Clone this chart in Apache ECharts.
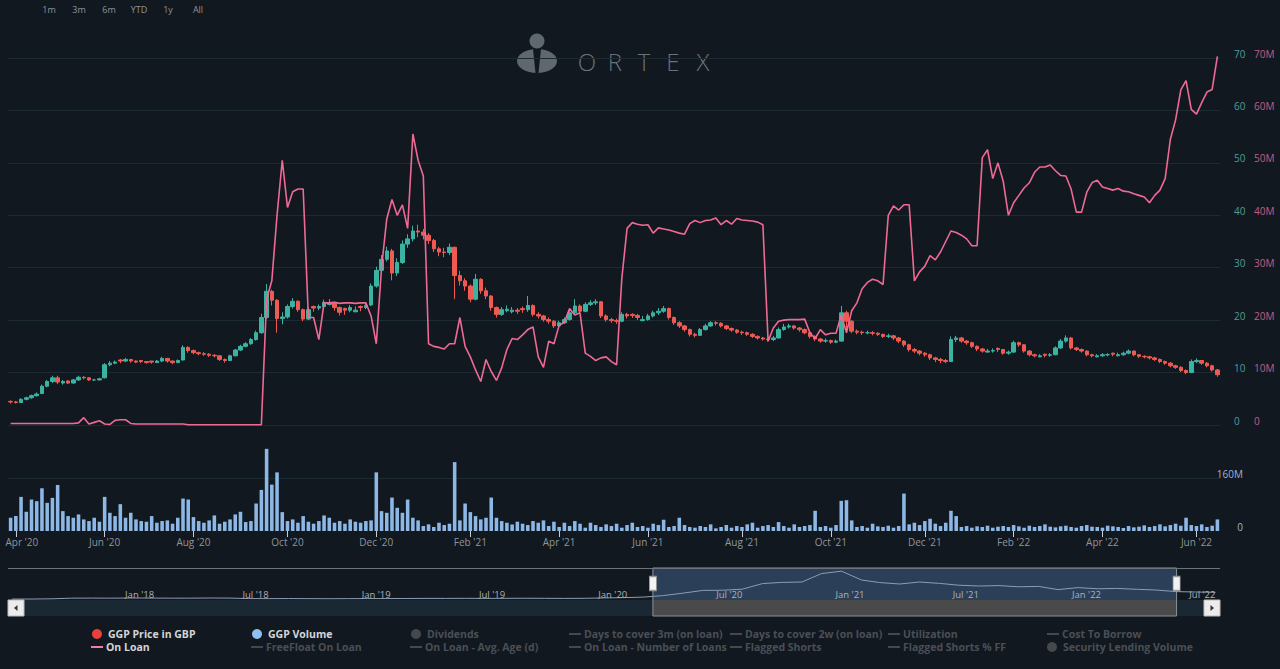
<!DOCTYPE html>
<html><head><meta charset="utf-8">
<script src="https://cdn.jsdelivr.net/npm/echarts@6/dist/echarts.min.js"></script>
<style>html,body{margin:0;padding:0;background:#121820;}#c{width:1280px;height:669px;}</style>
</head><body><div id="c"></div>
<script>
// ---- data (two samples per week: Mondays & Thursdays, from 30 Mar 2020) ----
const priceOpen = [
4.5,4.4,4.3,4.9,5.2,5.6,6.0,7.4,8.3,9.0,
8.0,8.4,8.0,8.6,9.1,9.0,8.6,8.6,9.0,11.5,
11.8,12.4,12.2,12.5,12.2,12.3,12.1,12.2,11.9,12.2,
12.7,12.2,11.9,12.4,14.8,14.2,13.8,13.6,13.5,13.3,
13.2,12.5,12.3,13.2,14.3,15.0,15.5,16.3,17.6,20.5,
25.5,23.8,20.3,20.6,22.6,23.6,22.0,20.2,22.6,22.3,
22.6,23.0,23.3,22.4,22.2,21.9,21.6,22.6,22.4,22.9,
26.5,29.5,31.6,33.2,29.0,31.0,34.5,35.5,37.0,36.8,
36.2,35.2,33.6,33.0,32.9,33.9,28.5,27.5,26.5,24.0,
27.8,25.6,24.6,22.4,21.1,21.8,21.6,21.9,22.2,22.0,
22.8,21.1,20.8,20.1,19.8,18.9,19.5,20.1,21.4,22.7,
21.7,23.0,23.3,23.5,20.8,20.1,19.9,19.8,21.1,21.1,
20.9,19.9,20.1,20.8,21.4,21.7,22.2,20.5,19.5,18.9,
18.2,17.3,17.1,18.2,18.9,19.5,19.4,18.9,18.4,18.1,
17.7,17.6,17.3,16.9,16.6,16.4,16.3,16.6,18.2,18.7,
18.9,18.5,18.2,17.6,16.9,16.4,16.0,16.1,15.8,16.0,
21.4,19.8,17.9,17.7,17.6,17.6,17.5,17.3,16.9,17.0,
16.6,16.0,15.3,14.4,14.1,13.7,13.4,12.8,12.5,12.3,
12.1,16.3,16.6,16.0,15.7,15.0,14.5,13.9,14.1,14.6,
14.4,13.7,13.9,15.7,15.3,14.1,13.4,13.0,13.5,13.3,
13.4,14.7,16.0,16.6,14.7,14.4,14.1,13.4,13.0,13.2,
13.4,13.7,13.2,13.4,13.7,14.1,13.4,13.1,13.0,12.8,
12.5,12.1,11.8,11.3,11.0,10.4,10.0,12.1,12.3,11.8,
11.3,10.5];
const priceClose = [
4.4,4.3,4.9,5.2,5.6,5.9,7.4,8.3,9.0,8.2,
8.3,8.0,8.6,9.1,9.0,8.6,8.6,8.8,11.5,11.8,
12.0,12.2,12.5,12.2,12.0,12.1,11.9,12.0,12.2,12.7,
12.2,11.9,12.3,14.8,14.2,13.8,13.6,13.5,13.3,13.2,
12.5,12.3,13.2,14.3,15.0,15.5,16.3,17.6,20.5,25.5,
23.8,20.3,20.6,22.6,23.6,22.0,20.2,22.0,22.3,22.6,
23.4,23.3,22.4,21.5,21.9,22.4,21.9,22.4,22.8,26.5,
29.5,31.6,33.2,29.0,31.0,34.5,35.5,37.0,36.8,36.2,
35.2,33.6,33.0,32.9,33.9,28.5,27.5,26.5,24.0,27.8,
25.6,24.6,22.4,21.1,22.0,22.1,21.9,21.7,22.0,22.8,
21.1,20.8,20.1,19.8,18.9,19.5,20.1,21.4,22.7,21.7,
23.0,23.3,23.5,20.8,20.1,19.9,19.8,21.1,20.8,20.9,
20.5,20.1,20.8,21.4,21.7,22.2,20.5,19.5,18.9,18.2,
17.3,17.1,18.2,18.9,19.5,19.4,18.9,18.4,18.1,17.7,
17.6,17.3,16.9,16.6,16.4,16.3,16.6,18.2,18.7,18.9,
18.5,18.2,17.6,16.9,16.4,16.0,16.1,15.8,16.0,21.4,
19.8,17.9,17.7,17.6,17.6,17.5,17.3,16.9,17.0,16.6,
16.0,15.3,14.4,14.1,13.7,13.4,12.8,12.5,12.3,12.1,
16.3,16.6,16.0,15.7,15.0,14.5,14.1,14.1,14.2,14.4,
13.7,13.9,15.7,15.3,14.1,13.4,13.2,13.2,13.3,13.4,
14.7,16.0,16.6,14.7,14.4,14.1,13.4,13.2,13.2,13.4,
13.4,13.5,13.4,13.7,14.1,13.4,13.1,13.0,12.8,12.5,
12.1,11.8,11.3,11.0,10.4,10.0,12.1,12.3,11.8,11.3,
10.5,9.6];
const priceLow = [
4.1,4.1,4.2,4.7,5.0,5.4,5.9,7.2,8.0,7.8,
7.7,7.8,7.9,8.4,8.7,8.4,8.4,8.5,8.9,11.2,
11.6,11.8,12.0,11.9,11.8,11.8,11.7,11.7,11.9,12.0,
11.9,11.6,11.8,12.3,13.8,13.5,13.3,13.2,13.0,12.9,
12.2,11.9,12.2,13.1,14.1,14.8,15.3,16.1,17.4,20.2,
22.8,17.6,19.2,20.3,22.2,21.6,19.8,20.0,21.6,21.9,
22.2,22.8,21.8,20.9,21.0,21.5,21.5,21.7,22.1,22.7,
26.2,29.2,31.2,27.6,28.4,30.7,33.8,35.0,35.8,35.4,
34.5,33.0,32.2,32.0,32.4,24.0,26.6,25.6,23.4,23.8,
25.0,24.0,21.8,20.5,20.8,21.5,21.3,21.2,21.4,21.6,
20.7,20.3,19.7,19.3,18.5,18.6,19.3,19.9,21.1,21.2,
21.5,22.7,22.9,20.4,19.7,19.5,19.3,19.6,20.3,20.4,
20.0,19.8,19.9,20.5,21.0,21.4,20.1,19.1,18.5,17.8,
16.9,16.7,17.0,18.0,18.7,19.0,18.6,18.1,17.8,17.4,
17.2,17.0,16.6,16.3,16.1,15.9,16.0,16.5,18.0,18.4,
18.2,17.8,17.3,16.5,16.0,15.7,15.7,15.5,15.6,15.9,
17.8,17.5,17.3,17.2,17.3,17.1,17.0,16.6,16.6,16.2,
15.6,14.9,14.0,13.7,13.3,13.0,12.4,12.0,11.8,11.8,
12.0,15.8,15.7,15.3,14.7,14.1,13.8,13.8,13.8,13.9,
13.4,13.4,13.8,14.9,13.8,13.1,12.9,12.9,12.9,13.0,
13.3,14.5,15.7,14.4,14.1,13.8,13.1,12.9,12.9,13.0,
13.1,13.1,13.1,13.2,13.5,13.1,12.8,12.7,12.5,12.2,
11.8,11.5,11.0,10.7,10.1,9.7,9.9,11.8,11.5,11.0,
10.2,9.2];
const priceHigh = [
4.7,4.6,5.1,5.4,5.8,6.2,7.7,8.6,9.4,9.4,
8.6,8.5,8.8,9.4,9.3,9.1,8.8,9.0,11.8,12.2,
12.3,12.6,12.8,12.6,12.3,12.3,12.2,12.2,12.4,13.0,
12.8,12.3,12.5,15.2,15.0,14.4,14.0,13.9,13.7,13.5,
13.3,12.7,13.4,14.5,15.3,15.8,16.6,18.0,21.2,26.9,
25.8,24.0,21.5,23.0,24.2,23.8,22.2,22.5,22.8,23.0,
23.9,24.0,23.5,22.6,22.4,22.9,22.6,22.8,23.3,27.0,
30.2,32.4,34.0,33.6,31.8,35.2,36.4,38.0,38.2,37.4,
36.6,35.5,34.0,33.8,34.6,34.0,29.4,28.0,26.8,28.8,
28.0,26.2,24.8,22.6,22.5,22.8,22.5,22.3,22.6,24.6,
23.0,21.5,21.0,20.5,20.0,19.9,20.5,21.8,24.0,23.0,
23.4,23.8,24.0,23.6,21.1,20.4,20.3,21.5,21.4,21.3,
21.2,20.8,21.2,21.8,22.3,22.7,22.4,20.7,19.8,19.1,
18.4,17.6,18.5,19.3,19.8,19.8,19.6,19.1,18.6,18.3,
18.0,17.8,17.5,17.1,16.8,16.7,17.0,18.6,19.3,19.3,
19.1,18.7,18.4,17.8,17.1,16.6,16.5,16.3,16.3,22.7,
21.8,20.0,18.2,18.0,18.0,17.9,17.7,17.4,17.4,17.2,
16.8,16.2,15.5,14.7,14.3,13.9,13.6,13.0,12.8,12.6,
16.9,17.0,16.8,16.2,15.9,15.2,14.7,14.5,14.6,14.8,
14.5,14.2,16.1,15.9,15.4,14.3,13.6,13.5,13.6,13.7,
15.0,16.4,17.1,16.8,14.9,14.6,14.2,13.6,13.5,13.7,
13.7,13.8,13.8,14.0,14.4,14.2,13.5,13.3,13.2,13.0,
12.7,12.3,12.0,11.5,11.2,10.6,12.5,12.7,12.4,12.0,
11.5,10.7];
// shares on loan, millions
const onLoan = [
0.3,0.3,0.3,0.3,0.3,0.3,0.3,0.3,0.3,0.3,
0.3,0.3,0.3,0.4,1.4,0.2,0.5,0.8,0.2,0.1,
0.9,1.0,1.0,0.3,0.2,0.2,0.2,0.2,0.2,0.2,
0.2,0.2,0.2,0.2,0.05,0.05,0.05,0.05,0.05,0.05,
0.05,0.05,0.05,0.05,0.05,0.05,0.05,0.05,0.05,24,
27.5,40,50.5,41.5,44.5,45,45,20.5,20.5,16.3,
23.3,23.3,23.4,23.2,23.3,23.3,23.2,23.3,23.3,20.8,
15.5,30,39.3,43,40,42,37.5,55.5,50.5,47.5,
15.5,15,14.8,14.5,15.5,15.5,20.5,15,13,10.5,
8.3,12.5,10.2,8.5,10.9,14.4,16.5,16.3,17.2,18.2,
18.7,13,11,16,15.5,19,19.6,22.2,21,21.4,
13.7,13.1,12.3,12.8,13,12.1,11.5,28,37.5,38.6,
38.3,38.1,38.2,36.6,37.6,37.4,37.2,36.9,36.6,36.4,
38.4,39,38.6,39,39.1,39.5,38.2,39,38.3,39.4,
39.1,39,38.9,38.7,38.2,16,18.5,19.8,20,20.1,
20.1,20.1,20.2,17.6,16.5,18.2,17.2,17.5,17.5,21,
17.6,21.8,23.3,26,27.2,27.8,27.5,26.8,40,41.8,
41,42,42,27.5,29.2,30.3,32.3,31.5,33,35,
37,36.7,36.2,35.5,34.2,34.2,51,52.5,47,50,
46.5,40,42.4,43.8,45.2,46.2,48.2,49.2,49.2,49.6,
48.5,47.6,47.5,45,40.6,40.6,44.4,46.2,46.7,45.4,
45.1,44.8,45.1,44.6,44.5,44.1,43.8,43.5,42.4,43.8,
44.8,47,54.5,58.2,63.9,65.7,60.2,59.3,61.5,63.5,
64,70.3];
// traded volume, millions
const volume = [
40,45,103,58,95,90,129,85,100,139,
60,45,40,50,35,30,40,28,103,55,
45,81,40,55,35,30,28,45,25,30,
32,22,40,98,95,42,30,25,32,47,
22,28,35,50,58,27,30,83,124,248,
140,177,57,30,35,25,45,28,22,30,
47,40,25,30,22,35,28,25,30,32,
177,60,55,101,70,55,95,40,32,15,
20,12,25,18,22,208,32,83,57,45,
35,40,101,40,30,25,20,28,22,18,
30,25,32,15,28,12,25,15,30,22,
10,25,18,12,20,15,22,10,18,25,
12,15,10,22,18,34,12,15,40,18,
12,10,15,12,20,8,12,18,10,15,
12,20,25,10,15,18,12,27,15,10,
20,12,15,18,61,12,15,10,18,91,
93,32,12,15,10,22,14,12,16,10,
15,113,20,25,18,30,37,22,15,25,
61,45,12,15,10,14,12,16,10,13,
15,12,18,14,10,16,12,15,20,13,
11,14,16,12,10,15,18,13,12,10,
16,14,12,9,15,11,13,17,12,15,
20,14,18,22,16,40,18,15,20,12,
16,35];
const xTickDates = ['2020-04-01','2020-06-01','2020-08-01','2020-10-01','2020-12-01','2021-02-01','2021-04-01','2021-06-01','2021-08-01','2021-10-01','2021-12-01','2022-02-01','2022-04-01','2022-06-01'];
const xTickLabels = ["Apr '20","Jun '20","Aug '20","Oct '20","Dec '20","Feb '21","Apr '21","Jun '21","Aug '21","Oct '21","Dec '21","Feb '22","Apr '22","Jun '22"];
// navigator: monthly price history Jul 2017 .. Aug 2022
const navStartMonth = [2017, 6];
const navPrice = [
1.2,1.2,1.5,2.3,2.4,2.3,
2.5,2.4,2.3,2.3,2.5,2.4,1.8,1.7,1.8,1.7,1.6,1.7,
1.8,1.8,1.9,2.0,2.0,2.1,2.0,2.1,2.2,2.1,2.0,2.1,
2.6,3.0,3.6,5.5,8.5,12.0,12.2,13.5,20.5,22.0,22.5,33.0,
36.0,25.0,21.8,20.0,22.5,20.8,18.5,17.5,18.0,16.5,17.0,13.0,
15.5,14.0,14.5,13.4,12.5,10.5,10.0,9.6];
const priceTicks = {min:0, max:70, step:10};
const volTicks = {min:0, max:320, step:160};

// ---- build ----
const DAY = 864e5;
const N = priceClose.length;
const catTimes = [];
let t = Date.UTC(2020, 2, 30);
for (let k = 0; k < N; k++) { catTimes.push(t); t += (k % 2 === 0 ? 3 : 4) * DAY; }
const categories = catTimes.map(ts => new Date(ts).toISOString().slice(0, 10));
const labelAt = {};
xTickDates.forEach((ds, j) => {
  const target = Date.parse(ds);
  let best = 0, bd = Infinity;
  catTimes.forEach((ts, k) => { const dd = Math.abs(ts - target); if (dd < bd) { bd = dd; best = k; } });
  labelAt[best] = xTickLabels[j];
});
const firstLabelIdx = Math.min(...Object.keys(labelAt).map(Number));
const ohlc = priceClose.map((c, i) => [priceOpen[i], c, priceLow[i], priceHigh[i]]);
const navData = navPrice.map((v, i) => [Date.UTC(navStartMonth[0], navStartMonth[1] + i, 15), v]);
const navMin = Date.UTC(2017, 6, 9), navMax = Date.UTC(2022, 7, 22);
const selStart = catTimes[0], selEnd = catTimes[N - 1];
const MON = ['Jan','Feb','Mar','Apr','May','Jun','Jul','Aug','Sep','Oct','Nov','Dec'];

const FONT = "'Open Sans', 'DejaVu Sans', sans-serif";
const gridColor = '#1c2a31';
const tickFn = (idx) => labelAt[idx] !== undefined;

// legend drawn as graphic text
const legendItems = [
  [0,'dot',97,'GGP Price in GBP','#e8413b'],
  [0,'dot',257,'GGP Volume','#8fc0ef'],
  [0,'dot',416,'Dividends',null],
  [0,'dash',569,'Days to cover 3m (on loan)',null],
  [0,'dash',730,'Days to cover 2w (on loan)',null],
  [0,'dash',888,'Utilization',null],
  [0,'dash',1047,'Cost To Borrow',null],
  [1,'dash',91,'On Loan','#ef7ea2'],
  [1,'dash',251,'FreeFloat On Loan',null],
  [1,'dash',410,'On Loan - Avg. Age (d)',null],
  [1,'dash',569,'On Loan - Number of Loans',null],
  [1,'dash',730,'Flagged Shorts',null],
  [1,'dash',888,'Flagged Shorts % FF',null],
  [1,'dot',1052,'Security Lending Volume',null],
];
const rowY = [634, 647];
const graphics = [];
legendItems.forEach(([row, kind, x, label, col]) => {
  const y = rowY[row];
  const active = !!col;
  const sym = active ? col : '#45494e';
  const txt = active ? '#d3d6d9' : '#4a4f55';
  if (kind === 'dot') {
    graphics.push({type:'circle', shape:{cx:x, cy:y, r:5}, style:{fill:sym}});
    graphics.push({type:'text', style:{text:label, x:x+11, y:y, fill:txt, fontFamily:FONT, fontSize:10.5, fontWeight:'bold', align:'left', verticalAlign:'middle'}});
  } else {
    graphics.push({type:'line', shape:{x1:x, y1:y, x2:x+12, y2:y}, style:{stroke:sym, lineWidth:2}});
    graphics.push({type:'text', style:{text:label, x:x+15, y:y, fill:txt, fontFamily:FONT, fontSize:10.5, fontWeight:'bold', align:'left', verticalAlign:'middle'}});
  }
});
// range selector
[['1m',49],['3m',79],['6m',109],['YTD',139],['1y',168],['All',198]].forEach(([s, x]) => {
  graphics.push({type:'text', style:{text:s, x:x, y:9, fill:'#8e949a', fontFamily:FONT, fontSize:9, align:'center', verticalAlign:'middle'}});
});
// watermark
const wm = '#5f686e';
graphics.push({type:'group', z:1, children:[
  {type:'circle', shape:{cx:537, cy:41, r:7.5}, style:{fill:wm}},
  {type:'ellipse', shape:{cx:537, cy:61, rx:20, ry:12}, style:{fill:wm}},
  {type:'polygon', shape:{points:[[533,49],[541,49],[538.5,73],[535.5,73]]}, style:{fill:'#121820'}},
  ...[['O',587],['R',615],['T',644],['E',673],['X',703]].map(([ch, x]) => (
    {type:'text', style:{text:ch, x:x, y:61, fill:'#6a7278', fontFamily:"'Open Sans', sans-serif", fontSize:24, fontWeight:300, align:'center', verticalAlign:'middle'}}))
]});
// scrollbar arrow buttons
graphics.push({type:'rect', shape:{x:8, y:600, width:16, height:16}, style:{fill:'#ececec', stroke:'#bbbbbb', lineWidth:1}, z:20});
graphics.push({type:'polygon', shape:{points:[[17.5,605],[17.5,611],[14,608]]}, style:{fill:'#333'}, z:21});
graphics.push({type:'rect', shape:{x:1204, y:600, width:16, height:16}, style:{fill:'#ececec', stroke:'#bbbbbb', lineWidth:1}, z:20});
graphics.push({type:'polygon', shape:{points:[[1210.5,605],[1210.5,611],[1214,608]]}, style:{fill:'#333'}, z:21});

const chart = echarts.init(document.getElementById('c'), null, {renderer:'svg'});
chart.setOption({
  backgroundColor: '#121820',
  animation: false,
  textStyle: {fontFamily: FONT},
  grid: [
    {left:8, width:1212, top:58, height:367, containLabel:false, outerBoundsMode:'none'},
    {left:8, width:1212, top:425, height:106, containLabel:false, outerBoundsMode:'none'},
    {left:8, width:1212, top:568, height:48, containLabel:false, outerBoundsMode:'none'}
  ],
  xAxis: [
    {type:'category', gridIndex:0, data:categories, boundaryGap:true,
      axisLine:{show:false}, axisTick:{show:false}, axisLabel:{show:false}, splitLine:{show:false}},
    {type:'category', gridIndex:1, data:categories, boundaryGap:true,
      axisLine:{show:false},
      axisTick:{show:true, alignWithLabel:true, interval:tickFn, length:6, lineStyle:{color:'#c9cdd1', width:1}},
      axisLabel:{interval:tickFn, color:'#8f959b', fontSize:10, margin:6, fontFamily:FONT,
        formatter:(v, idx) => idx === firstLabelIdx ? '{first|' + labelAt[idx] + '}' : (labelAt[idx] || ''),
        rich:{first:{padding:[0,0,0,12], color:'#8f959b', fontSize:10, fontFamily:FONT}}},
      splitLine:{show:false}},
    {type:'time', gridIndex:2, min:navMin, max:navMax, splitNumber:10,
      minInterval:180*DAY, maxInterval:185*DAY, z:10,
      axisLine:{show:false}, axisTick:{show:false}, splitLine:{show:false},
      axisLabel:{inside:true, margin:17, color:'#aeb2b6', fontSize:9.5, align:'left', padding:[0,0,0,3],
        showMinLabel:false, showMaxLabel:false,
        formatter:(v) => { const d = new Date(v); return MON[d.getUTCMonth()] + " '" + String(d.getUTCFullYear()).slice(2); }}}
  ],
  yAxis: [
    {type:'value', gridIndex:0, position:'right', min:priceTicks.min, max:priceTicks.max, interval:priceTicks.step,
      axisLine:{show:false}, axisTick:{show:false},
      splitLine:{show:true, lineStyle:{color:gridColor, width:1}},
      axisLabel:{color:'#4f9d95', fontSize:10, margin:14, align:'left', verticalAlign:'bottom', lineHeight:9}},
    {type:'value', gridIndex:0, position:'right', offset:20, min:priceTicks.min, max:priceTicks.max, interval:priceTicks.step,
      axisLine:{show:false}, axisTick:{show:false}, splitLine:{show:false},
      axisLabel:{color:'#c45d82', fontSize:10, margin:14, align:'left', verticalAlign:'bottom', lineHeight:9,
        formatter:(v) => v === 0 ? '0' : v + 'M'}},
    {type:'value', gridIndex:1, position:'right', min:volTicks.min, max:volTicks.max, interval:volTicks.step,
      axisLine:{show:false}, axisTick:{show:false},
      splitLine:{show:true, lineStyle:{color:['transparent', gridColor, 'transparent'], width:1}},
      axisLabel:{color:'#9bb7d4', fontSize:10, margin:23, align:'right', verticalAlign:'bottom', lineHeight:9,
        showMaxLabel:false, formatter:(v) => v === 0 ? '0' : (v === 160 ? '160M' : '')}},
    {type:'value', gridIndex:2, show:false, min:-20, max:40}
  ],
  graphic: graphics,
  series: [
    {type:'candlestick', name:'GGP Price in GBP', xAxisIndex:0, yAxisIndex:0, data:ohlc, barWidth:4, z:2,
      itemStyle:{color:'#3bb3a3', color0:'#ef5b52', borderColor:'#3bb3a3', borderColor0:'#ef5b52', borderWidth:1}},
    {type:'line', name:'On Loan', xAxisIndex:0, yAxisIndex:1, data:onLoan, symbol:'none', clip:false, z:3,
      lineStyle:{color:'#ee6a95', width:1.6}},
    {type:'bar', name:'GGP Volume', xAxisIndex:1, yAxisIndex:2, data:volume, barWidth:'68%',
      itemStyle:{color:'#8db8e6'}},
    {type:'line', name:'Navigator', xAxisIndex:2, yAxisIndex:3, data:navData, symbol:'none', z:5,
      lineStyle:{color:'#8c9db3', width:1},
      markArea:{silent:true, label:{show:false}, data:[
        [{xAxis:navMin, yAxis:-20, itemStyle:{color:'#1a2834'}}, {xAxis:navMax, yAxis:0}],
        [{xAxis:selStart, yAxis:-20, itemStyle:{color:'#4a4a4a'}}, {xAxis:selEnd, yAxis:0}],
        [{xAxis:selStart, yAxis:0, itemStyle:{color:'rgba(75,110,160,0.45)'}}, {xAxis:selEnd, yAxis:40}],
        [{xAxis:selStart, yAxis:-20, itemStyle:{color:'rgba(0,0,0,0)', borderColor:'#8a9096', borderWidth:1}}, {xAxis:selEnd, yAxis:40}]
      ]},
      markLine:{silent:true, symbol:['none','none'], label:{show:false},
        lineStyle:{color:'#6c7379', type:'solid', width:1}, data:[{yAxis:40}]},
      markPoint:{silent:true, symbol:'rect', symbolSize:[7,14], label:{show:false},
        itemStyle:{color:'#f2f2f2', borderColor:'#9a9a9a', borderWidth:1},
        data:[{coord:[selStart, 20.6]}, {coord:[selEnd, 20.6]}]}}
  ]
});
</script>
</body></html>
